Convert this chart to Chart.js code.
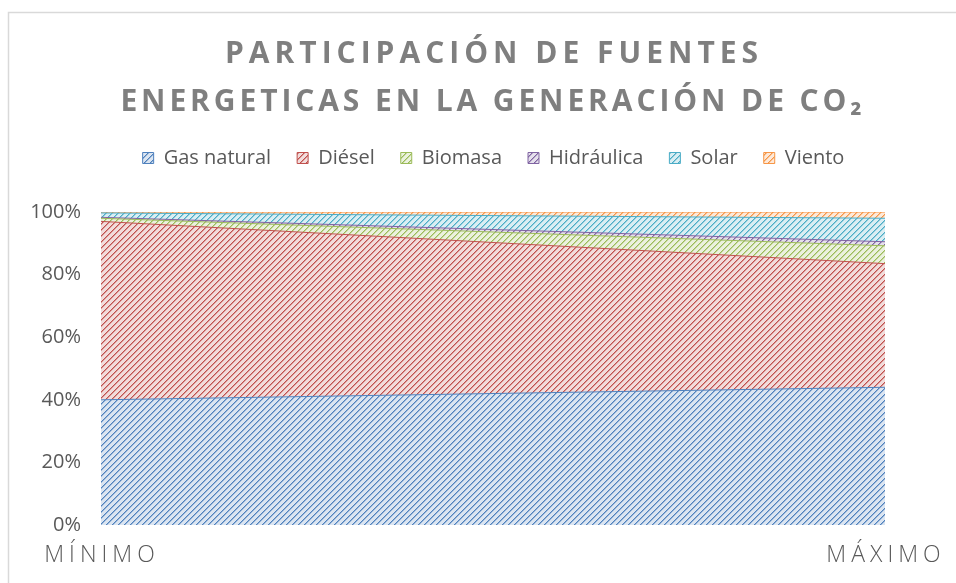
<!DOCTYPE html>
<html>
<head>
<meta charset="utf-8">
<script src="https://cdn.jsdelivr.net/npm/chart.js@4/dist/chart.umd.min.js"></script>
<style>
  html, body { margin: 0; padding: 0; background: #fff; }
</style>
</head>
<body>
<canvas id="myChart" width="956" height="583"></canvas>
<script>
// datos (porcentaje de participacion)
const escenarios = ["MÍNIMO", "MÁXIMO"];
const fuentes = ["Gas natural", "Diésel", "Biomasa", "Hidráulica", "Solar", "Viento"];
const gasNatural = [40.0, 44.0];
const diesel = [57.0, 39.5];
const biomasa = [1.0, 5.7];
const hidraulica = [0.3, 1.3];
const solar = [1.4, 7.5];
const viento = [0.3, 2.0];
const ticksY = ["0%", "20%", "40%", "60%", "80%", "100%"];
const tituloLineas = ["PARTICIPACIÓN DE FUENTES", "ENERGETICAS EN LA GENERACIÓN DE CO₂"];

const colores = [
    ["#4f81bd", "#dbe5f1"],
    ["#c0504d", "#f2dcdb"],
    ["#9bbb59", "#ebf1de"],
    ["#8064a2", "#e5e0ec"],
    ["#4bacc6", "#daeef3"],
    ["#f79646", "#fde9d9"]
];

function mezcla(a, b) {
    let r = (parseInt(a.substr(1,2),16) + parseInt(b.substr(1,2),16)) >> 1;
    let g = (parseInt(a.substr(3,2),16) + parseInt(b.substr(3,2),16)) >> 1;
    let bl = (parseInt(a.substr(5,2),16) + parseInt(b.substr(5,2),16)) >> 1;
    return "rgb(" + r + "," + g + "," + bl + ")";
}

function trama(fg, bg) {
    let c = document.createElement("canvas");
    c.width = 6;
    c.height = 6;
    let cx = c.getContext("2d");
    let medio = mezcla(fg, bg);
    for (let x = 0; x < 6; x++) {
        for (let y = 0; y < 6; y++) {
            let d = (x + y) % 6;
            cx.fillStyle = d == 0 ? fg : (d == 1 ? medio : bg);
            cx.fillRect(x, y, 1, 1);
        }
    }
    return cx.createPattern(c, "repeat");
}

const series = [gasNatural, diesel, biomasa, hidraulica, solar, viento];
const datasets = series.map(function(vals, i) {
    return {
        label: fuentes[i],
        data: vals,
        backgroundColor: trama(colores[i][0], colores[i][1]),
        borderColor: colores[i][0],
        borderWidth: 1,
        pointRadius: 0,
        fill: i == 0 ? "origin" : "-1",
        tension: 0
    };
});

// marco, titulo y etiquetas del eje x con espaciado de letras
const textoPlugin = {
    id: "textos",
    beforeInit(chart) {
        const fitOrig = chart.legend.fit;
        chart.legend.fit = function() {
            fitOrig.bind(chart.legend)();
            this.height += 34;
        };
    },
    afterLayout(chart) {
        // la leyenda va centrada en todo el ancho del grafico
        chart.legend.left += 47;
        chart.legend.right += 47;
    },
    beforeDraw(chart) {
        const ctx = chart.ctx;
        ctx.save();
        ctx.strokeStyle = "#d9d9d9";
        ctx.lineWidth = 1.5;
        ctx.beginPath();
        ctx.moveTo(8.5, 583);
        ctx.lineTo(8.5, 12.5);
        ctx.lineTo(956, 12.5);
        ctx.stroke();
        ctx.restore();
    },
    afterDraw(chart) {
        const ctx = chart.ctx;
        ctx.save();
        ctx.textAlign = "center";
        ctx.textBaseline = "middle";
        ctx.fillStyle = "#7f7f7f";
        ctx.font = "bold 30px 'Open Sans'";
        ctx.letterSpacing = "5px";
        ctx.fillText(tituloLineas[0], 494, 54);
        ctx.letterSpacing = "3.9px";
        ctx.fillText(tituloLineas[1], 493, 102);

        ctx.fillStyle = "#595959";
        ctx.font = "300 23px 'Open Sans'";
        ctx.letterSpacing = "5px";
        const xs = chart.scales.x;
        escenarios.forEach(function(e, i) {
            ctx.fillText(e, xs.getPixelForValue(i) + 1, 555);
        });
        ctx.restore();
    }
};

new Chart("myChart", {
    type: "line",
    data: {
        labels: escenarios,
        datasets: datasets
    },
    options: {
        responsive: false,
        animation: false,
        layout: { padding: { top: 122, left: 8, right: 71, bottom: 0 } },
        plugins: {
            legend: {
                position: "top",
                labels: {
                    boxWidth: 11,
                    boxHeight: 11,
                    padding: 26,
                    color: "#595959",
                    font: { family: "'Open Sans'", size: 20 }
                }
            },
            tooltip: { enabled: false }
        },
        scales: {
            x: {
                offset: false,
                grid: { display: false, drawTicks: false },
                border: { display: false },
                ticks: { display: false },
                afterFit: function(s) { s.height = 58; }
            },
            y: {
                stacked: true,
                min: 0,
                max: 100,
                grid: { display: false, drawTicks: false },
                border: { display: false },
                ticks: {
                    stepSize: 20,
                    padding: 20,
                    color: "#595959",
                    font: { family: "'Open Sans'", size: 20 },
                    callback: function(v) { return ticksY[v / 20]; }
                },
                afterFit: function(s) { s.width = 93; }
            }
        }
    },
    plugins: [textoPlugin]
});
</script>
</body>
</html>
